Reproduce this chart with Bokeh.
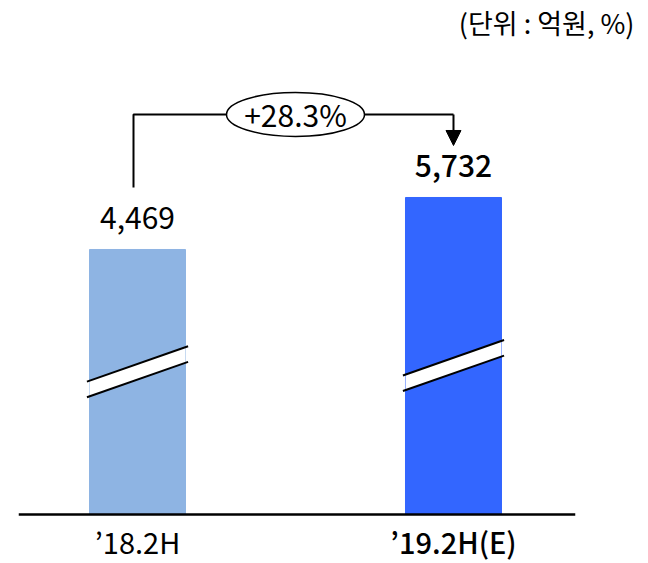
from bokeh.plotting import figure
from bokeh.models import Range1d, Arrow, NormalHead, ColumnDataSource, LabelSet, Span
from bokeh.core.properties import value
from bokeh.embed import file_html
from bokeh.resources import INLINE

# ---- data ----
categories = ["\u201918.2H", "\u201919.2H(E)"]
values = [4469, 5732]
growth_text = "+28.3%"
unit_text = "(\ub2e8\uc704 : \uc5b5\uc6d0, %)"
bar_colors = ["#8EB4E3", "#3366FF"]
break_at = [1500, 1650]          # value level where the broken-axis mark sits on each bar

FONT = "Noto Sans CJK KR"
FONT_MED = "'Noto Sans CJK KR Medium', 'Noto Sans CJK KR'"
label_fonts = [FONT, FONT_MED]
xs = list(range(len(categories)))

# visual scale: broken axis, baseline sits at y_base
y_base = -1968
px_per_unit = 0.04117
unit_per_px = 1 / px_per_unit
top_border = 41
canvas_h = 563
below_base_px = 49
y_min = y_base - below_base_px * unit_per_px
y_max = y_min + (canvas_h - top_border) * unit_per_px
x_lo, x_hi = -0.3766, 1.3861
frame_w = 557
x_per_px = (x_hi - x_lo) / frame_w

p = figure(frame_width=frame_w, frame_height=canvas_h - top_border,
           x_range=Range1d(x_lo, x_hi), y_range=Range1d(y_min, y_max),
           output_backend="svg", toolbar_location=None,
           x_axis_location=None, y_axis_location=None,
           min_border_left=18, min_border_right=73, min_border_top=top_border,
           min_border_bottom=0)
p.outline_line_color = None
p.grid.grid_line_color = None

bar_w = 0.3038
src = ColumnDataSource(dict(x=xs, top=values, color=bar_colors,
                            lab=[f"{v:,}" for v in values], font=label_fonts,
                            cat=categories, base=[y_base] * len(xs)))
p.vbar(x="x", top="top", bottom=y_base, width=bar_w, color="color", source=src)

# baseline (axis line)
p.add_layout(Span(location=y_base, dimension="width", line_color="black", line_width=2.5))

# broken-axis marks
L = 0.16
rise = 17.7 * unit_per_px
half_t = 7.8 * unit_per_px
for x, b in zip(xs, break_at):
    hw = bar_w / 2
    r = rise * hw / L
    p.patch([x - hw, x + hw, x + hw, x - hw],
            [b - r + half_t, b + r + half_t, b + r - half_t, b - r - half_t],
            fill_color="white", line_color=None)
    p.segment(x0=[x - L, x - L], y0=[b - rise + half_t, b - rise - half_t],
              x1=[x + L, x + L], y1=[b + rise + half_t, b + rise - half_t],
              line_color="black", line_width=2)

# value labels
p.add_layout(LabelSet(x="x", y="top", text="lab", source=src, text_align="center",
                      text_baseline="alphabetic", y_offset=20, text_font="font",
                      text_font_size="30px", text_color="black"))

# category labels
p.add_layout(LabelSet(x="x", y="base", text="cat", source=src, text_align="center",
                      text_baseline="alphabetic", y_offset=-39, text_font="font",
                      text_font_size="29px", text_color="black"))

# growth bracket
bracket_y = values[1] + 2016
left_bottom = values[0] + 1506
tip_y = values[1] + 1263
left_x = xs[0] - 4 * x_per_px
p.line([left_x, left_x, xs[1]], [left_bottom, bracket_y, bracket_y], line_color="black", line_width=2)
p.add_layout(Arrow(end=NormalHead(size=15, fill_color="black", line_color="black"),
                   x_start=xs[1], y_start=bracket_y, x_end=xs[1], y_end=tip_y,
                   line_color="black", line_width=2))
mid = (xs[0] + xs[1]) / 2
p.ellipse(x=[mid], y=[bracket_y], width=138, height=44, width_units="screen",
          height_units="screen", fill_color="white", line_color="black", line_width=1.5)
p.text(x=[mid], y=[bracket_y], text=[growth_text], text_align="center",
       text_baseline="middle", text_font=value(FONT), text_font_size="30px",
       text_color="black")

# unit title
p.title.text = unit_text
p.title.align = "right"
p.title.offset = -59
p.title.standoff = 0
p.title.text_font = FONT
p.title.text_font_size = "27px"
p.title.text_font_style = "normal"
p.title.text_color = "black"

open("out.html", "w").write(file_html(p, INLINE))
